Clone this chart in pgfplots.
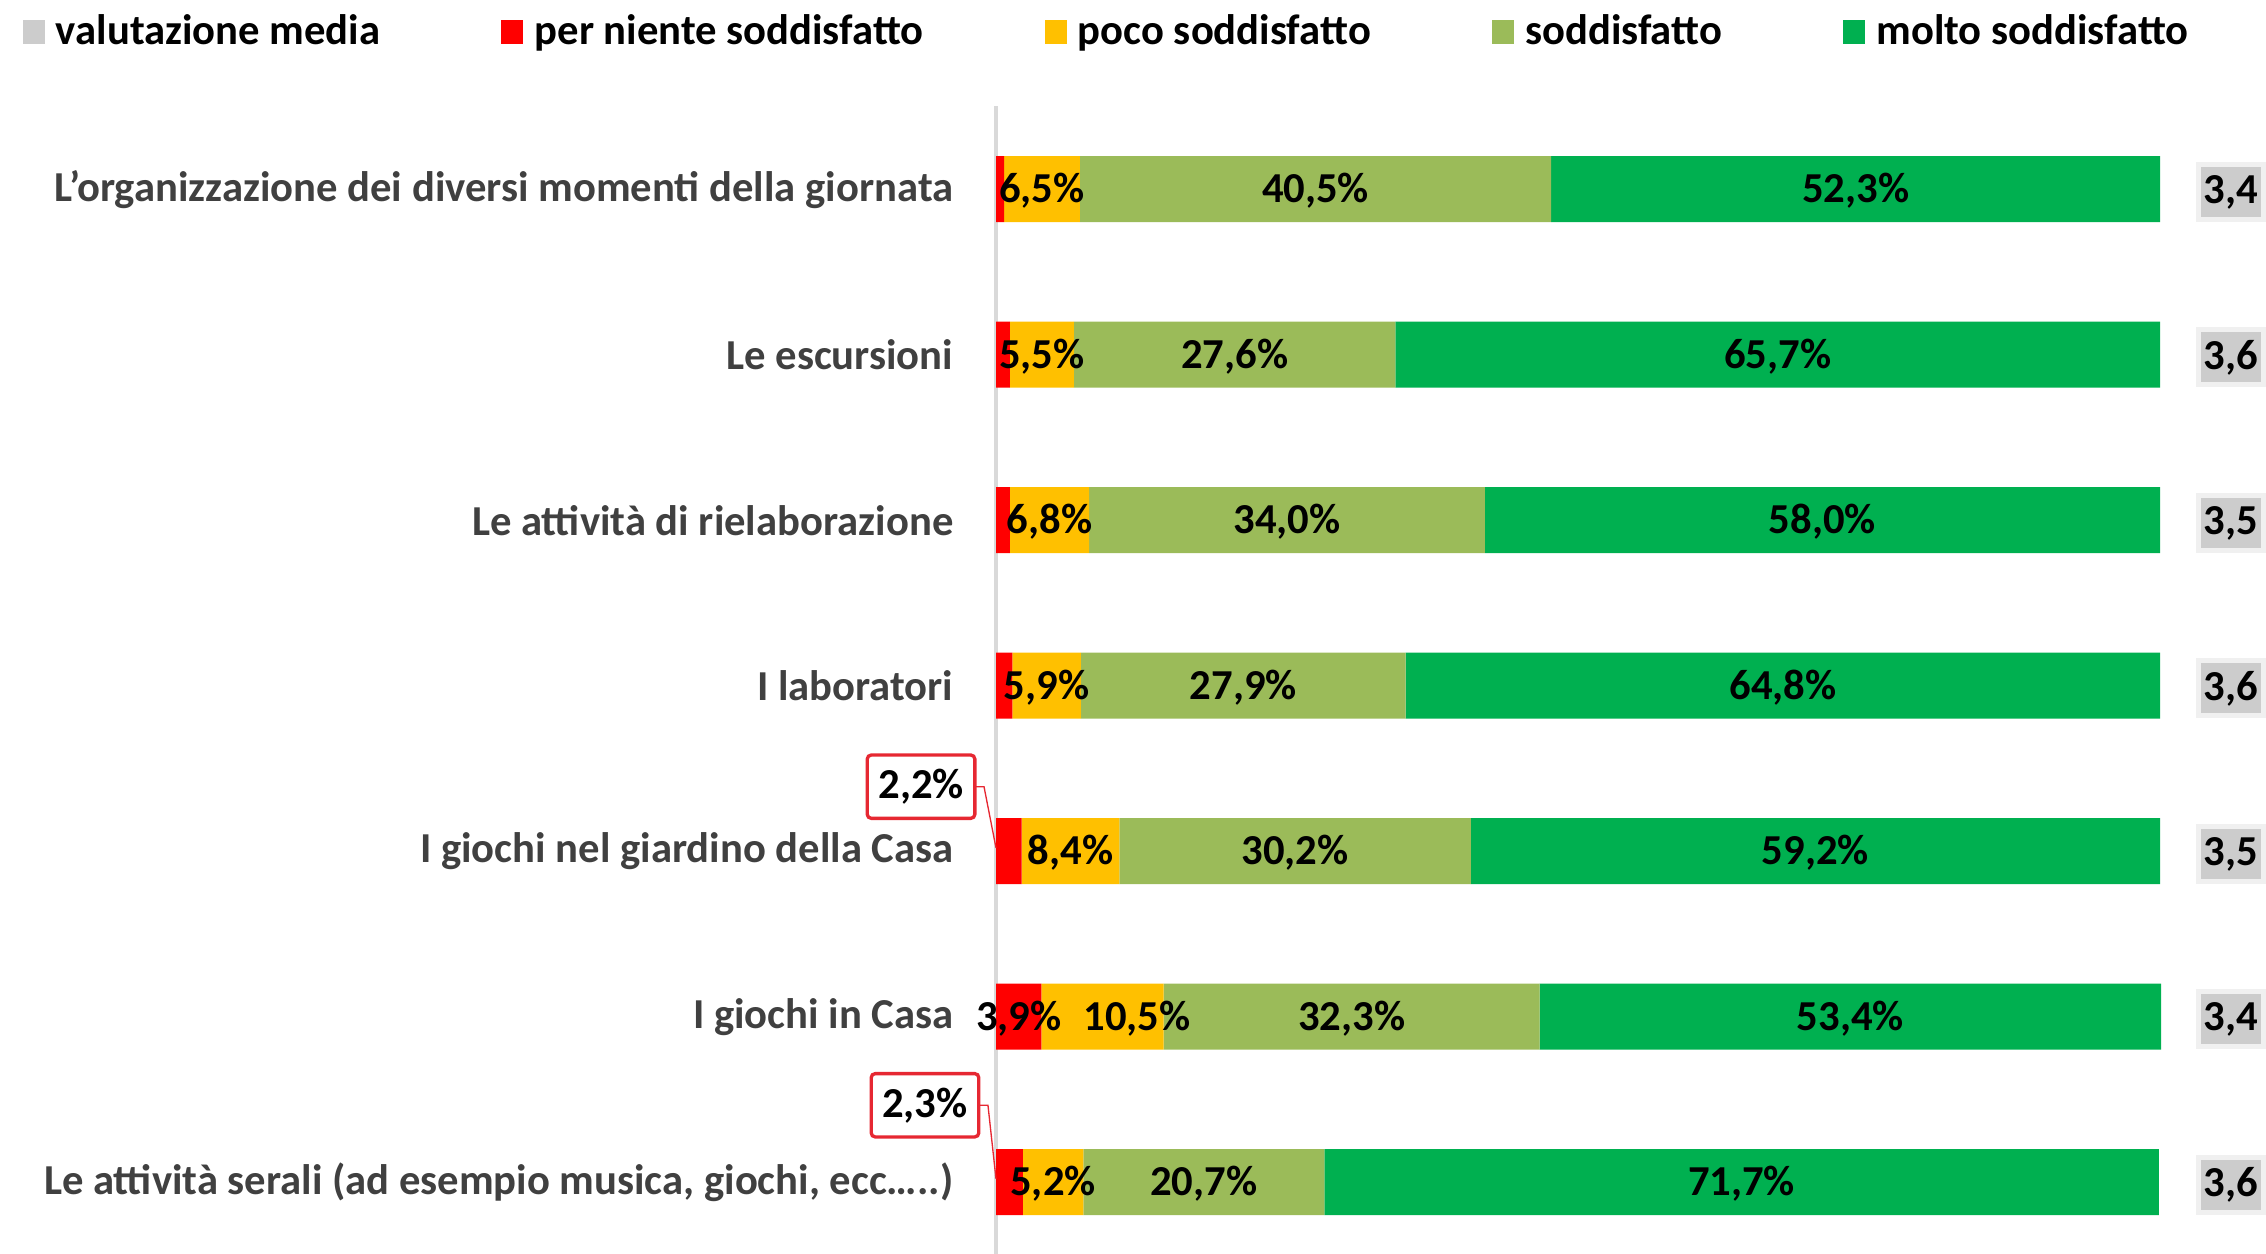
\documentclass[border=0pt]{standalone}
\usepackage{pgfplots}
\pgfplotsset{compat=1.18}
\usepackage{pgfplotstable}
\usepackage{fontspec}
\setmainfont{Carlito}
\definecolor{cRed}{HTML}{FF0000}
\definecolor{cYellow}{HTML}{FFC000}
\definecolor{cOlive}{HTML}{9BBB59}
\definecolor{cGreen}{HTML}{00B050}
\definecolor{cGrey}{HTML}{CCCCCC}
\definecolor{cLab}{HTML}{404040}
\definecolor{cAxis}{HTML}{D9D9D9}
\definecolor{cCall}{RGB}{230,40,50}

\pgfplotstableread{
y red yellow olive green mean
6 0.7 6.5 40.5 52.3 3.4
5 1.2 5.5 27.6 65.7 3.6
4 1.2 6.8 34.0 58.0 3.5
3 1.4 5.9 27.9 64.8 3.6
2 2.2 8.4 30.2 59.2 3.5
1 3.9 10.5 32.3 53.4 3.4
0 2.3 5.2 20.7 71.7 3.6
}\datatable

\pgfplotstableread{
x y v
1.95 1 3.9
}\redin

\pgfplotstableread{
x y v
-6.44 2.39 2.2
-6.10 0.465 2.3
}\redcall

\newcommand{\fnt}{\fontsize{12.8}{15}\selectfont\bfseries}

\begin{document}
\begin{tikzpicture}[font=\fnt]
\pgfplotsset{
  legsq/.style={legend image code/.code={\fill[##1] (0pt,-3.5pt) rectangle (6.6pt,3.5pt);}},
  /pgf/number format/.cd, use comma, fixed, fixed zerofill, precision=1, assume math mode=true,
}
\begin{axis}[
  at={(298.8pt,-3.3pt)}, anchor=south west,
  scale only axis, width=349.2pt, height=347.55pt,
  xmin=0, xmax=100, ymin=-0.5, ymax=6.5,
  xbar stacked, bar width=19.8pt,
  axis x line=none, axis y line*=left,
  y axis line style={draw=cAxis, line width=1pt},
  ytick={0,1,2,3,4,5,6},
  yticklabels={{Le attività serali (ad esempio musica, giochi, ecc…..)},{I giochi in Casa},{I giochi nel giardino della Casa},{I laboratori},{Le attività di rielaborazione},{Le escursioni},{L’organizzazione dei diversi momenti della giornata}},
  major tick length=0pt,
  yticklabel style={font=\fnt, text=cLab, anchor=east, inner sep=0pt, xshift=-12.6pt},
  clip=false,
  legend columns=5,
  legend style={draw=none, fill=none, at={(-0.8368,1.0643)}, anchor=west, inner sep=0pt,
    font=\fnt, /tikz/every even column/.append style={column sep=34.3pt},
    /tikz/every odd column/.append style={column sep=1.4pt}},
  nodes near coords={\pgfmathprintnumber{\pgfplotspointmeta}\%},
  every node near coord/.append style={font=\fnt, text=black, anchor=center, yshift=-0.5pt},
]
\addlegendimage{legsq, fill=cGrey, draw=none}
\addlegendentry{valutazione media}
\addplot[legsq, fill=cRed, draw=none, nodes near coords={}] table[x=red, y=y]{\datatable};
\addlegendentry{per niente soddisfatto}
\addplot[legsq, fill=cYellow, draw=none, point meta=explicit,
  visualization depends on={\thisrow{y} \as \ry},
  every node near coord/.append style={xshift={ifthenelse(\ry==1,10.4,0)}}]
  table[x=yellow, y=y, meta=yellow]{\datatable};
\addlegendentry{poco soddisfatto}
\addplot[legsq, fill=cOlive, draw=none, point meta=explicit] table[x=olive, y=y, meta=olive]{\datatable};
\addlegendentry{soddisfatto}
\addplot[legsq, fill=cGreen, draw=none, point meta=explicit] table[x=green, y=y, meta=green]{\datatable};
\addlegendentry{molto soddisfatto}
\end{axis}
\begin{axis}[
  at={(298.8pt,-3.3pt)}, anchor=south west,
  scale only axis, width=349.2pt, height=347.55pt,
  xmin=0, xmax=100, ymin=-0.5, ymax=6.5,
  hide axis, clip=false,
]
\addplot[only marks, mark=*, mark size=0pt, draw=none, fill=none, point meta=explicit,
  nodes near coords={\pgfmathprintnumber{\pgfplotspointmeta}},
  every node near coord/.append style={font=\fnt, text=black, anchor=center, fill=cGrey,
    draw=black!6, line width=1.5pt, minimum width=19.5pt, minimum height=16.5pt, inner sep=0pt, yshift=-0.8pt}]
  table[x expr=106.1, y=y, meta=mean]{\datatable};
\addplot[only marks, mark=*, mark size=0pt, draw=none, fill=none, point meta=explicit,
  nodes near coords={\pgfmathprintnumber{\pgfplotspointmeta}\%},
  every node near coord/.append style={font=\fnt, text=black, anchor=center, yshift=-0.5pt}]
  table[x=x, y=y, meta=v]{\redin};
\addplot[only marks, mark=*, mark size=0pt, draw=none, fill=none, point meta=explicit,
  nodes near coords={\pgfmathprintnumber{\pgfplotspointmeta}\%},
  every node near coord/.append style={font=\fnt, text=black, anchor=center, fill=white,
    draw=cCall, line width=1pt, rounded corners=1.2pt, minimum width=31.5pt, minimum height=19pt}]
  table[x=x, y=y, meta=v]{\redcall};
\draw[cCall, line width=0.4pt] (axis cs:-1.89,2.39) -- (axis cs:-1.03,2.39) -- (axis cs:0,2.02);
\draw[cCall, line width=0.4pt] (axis cs:-1.55,0.465) -- (axis cs:-0.69,0.465) -- (axis cs:0,0.02);
\end{axis}
\pgfresetboundingbox
\useasboundingbox (0,0) rectangle (679.8pt,376.2pt);
\end{tikzpicture}
\end{document}
